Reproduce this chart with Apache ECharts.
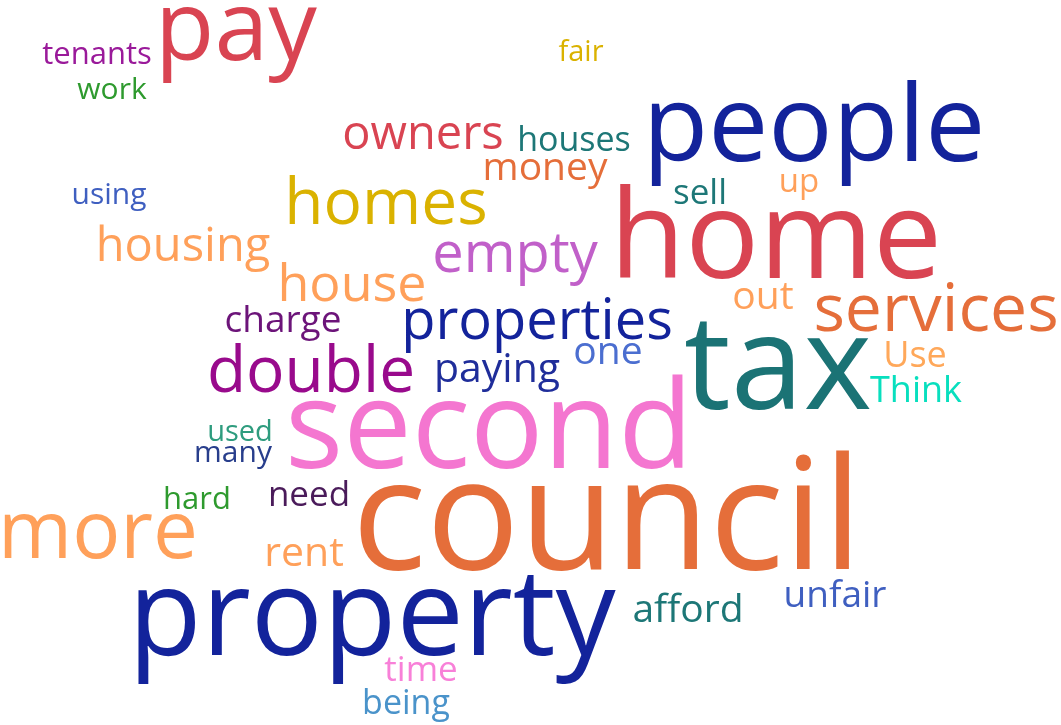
<!DOCTYPE html>
<html>
<head>
<meta charset="utf-8">
<script src="https://cdn.jsdelivr.net/npm/echarts@6/dist/echarts.min.js"></script>
<style>
  html, body { margin: 0; padding: 0; background: #fff; }
  #chart { width: 1061px; height: 725px; }
</style>
</head>
<body>
<div id="chart"></div>
<script>
// words of the cloud, their weight and where each one sits (x = centre, y = baseline)
var words   = ['tenants','work','pay','fair','owners','houses','money','people','sell','up',
               'using','homes','housing','house','empty','home','services','out','charge','properties',
               'double','paying','one','tax','Use','Think','second','used','many','hard',
               'need','more','rent','council','property','afford','unfair','time','being'];
var weights = [32,31,100,30,48,35,40,110,36,34,
               31,66,48,54,58,127,68,40,38,58,
               66,42,40,135,37,37,126,30,31,32,
               36,82,42,160,124,40,38,36,35];
var wordX   = [97,112,236,581,423,574,545,814,700,799,
               109,386,183,352,515,776,936,763,283,537,
               311,497,608,778,915,916,489,240,233,197,
               309,98,304,607,372,688,835,421,406];
var wordY   = [65,100,62,62,150,152,181,163,205,193,
               205,225,262,302,273,280,332,310,333,340,
               393,383,365,412,368,403,470,442,463,510,
               507,560,567,572,657,623,608,682,715];
var colours = ['#9a1a9a','#2e9a2e','#d94452','#dab200','#d94452','#1d7777','#e56e3a','#13239b','#1d7777','#ffa05a',
               '#3f5fc0','#dab200','#ffa05a','#ffa05a','#c160c9','#d94452','#e56e3a','#ffa05a','#6c1479','#13239b',
               '#990a8c','#1f2d9a','#4b6ed0','#1b7375','#ffa85a','#08dfbe','#f476d0','#2e9c7e','#283e8c','#2e9a2e',
               '#4a1b5a','#ffa05a','#ffa05a','#e56e3a','#13239b','#1d7777','#3f5fc0','#f880d8','#4a93ca'];

var points = [];
for (var i = 0; i < words.length; i++) {
    var fs = Math.round(weights[i] * 0.97);
    points.push({
        name: words[i],
        value: [wordX[i], wordY[i], weights[i]],
        label: {
            fontSize: fs,
            color: colours[i],
            offset: [0, -0.305 * fs]
        }
    });
}

var myChart = echarts.init(document.getElementById('chart'));
myChart.setOption({
    backgroundColor: '#ffffff',
    animation: false,
    grid: { left: 0, right: 0, top: 0, bottom: 0 },
    xAxis: { type: 'value', min: 0, max: 1061, show: false },
    yAxis: { type: 'value', min: 0, max: 725, inverse: true, show: false },
    series: [{
        type: 'scatter',
        silent: true,
        symbolSize: 0,
        itemStyle: { opacity: 1 },
        data: points,
        label: {
            show: true,
            opacity: 1,
            position: 'inside',
            formatter: '{b}',
            align: 'center',
            verticalAlign: 'middle',
            fontFamily: '"Open Sans", "Noto Sans", sans-serif'
        }
    }]
});
</script>
</body>
</html>
